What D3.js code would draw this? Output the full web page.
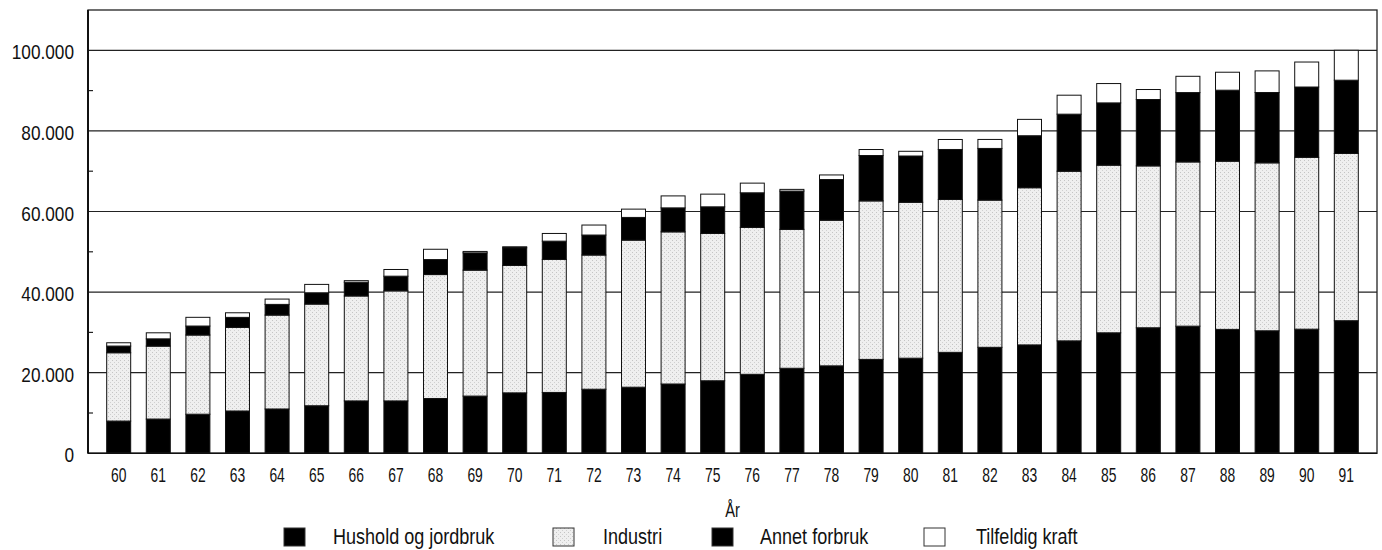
<!DOCTYPE html>
<html>
<head>
<meta charset="utf-8">
<script src="https://cdn.jsdelivr.net/npm/d3@7"></script>
<style>
  html, body { margin: 0; padding: 0; background: #fff; }
  svg { display: block; }
  text { font-family: "Liberation Sans", Arial, Helvetica, sans-serif; fill: #111; }
</style>
</head>
<body>
<svg id="chart" width="1382" height="550"></svg>
<script>
const years = ["60","61","62","63","64","65","66","67","68","69","70","71","72","73","74","75","76","77","78","79","80","81","82","83","84","85","86","87","88","89","90","91"];
const hushold = [8000, 8500, 9700, 10500, 11000, 11800, 13000, 13000, 13600, 14200, 15000, 15100, 15900, 16400, 17200, 18000, 19600, 21100, 21700, 23300, 23600, 25050, 26300, 26900, 27900, 29900, 31150, 31550, 30750, 30400, 30800, 32900];
const industri = [16950, 18100, 19650, 20750, 23300, 25230, 26040, 27300, 30750, 31250, 31600, 33000, 33300, 36500, 37750, 36560, 36460, 34470, 36140, 39330, 38690, 37940, 36530, 39000, 42100, 41600, 40170, 40750, 41740, 41670, 42650, 41500];
const annet = [1660, 1800, 2230, 2480, 2650, 2800, 3400, 3650, 3720, 4290, 4400, 4540, 4960, 5630, 5950, 6600, 8580, 9500, 10090, 11260, 11480, 12400, 12820, 12900, 14150, 15450, 16470, 17210, 17610, 17460, 17440, 18180];
const tilfeldig = [820, 1500, 2160, 1140, 1320, 2080, 400, 1660, 2560, 350, 250, 1910, 2480, 2060, 2970, 3150, 2400, 420, 1140, 1490, 1170, 2480, 2230, 4060, 4710, 4800, 2480, 4040, 4460, 5360, 6200, 7420];
const seriesNames = ["Hushold og jordbruk", "Industri", "Annet forbruk", "Tilfeldig kraft"];
const yTickValues = [0, 20000, 40000, 60000, 80000, 100000];
const yTickLabels = ["0", "20.000", "40.000", "60.000", "80.000", "100.000"];
const yMinorTicks = [10000, 30000, 50000, 70000, 90000];
const xTitle = "År";

const seriesFill = ["#000000", "url(#stipple)", "#000000", "#ffffff"];

const svg = d3.select("#chart");
const defs = svg.append("defs");
const pat = defs.append("pattern").attr("id", "stipple").attr("patternUnits", "userSpaceOnUse")
  .attr("width", 4).attr("height", 4);
pat.append("rect").attr("width", 4).attr("height", 4).attr("fill", "#efefef");
pat.append("rect").attr("x", 0).attr("y", 0).attr("width", 1).attr("height", 1).attr("fill", "#c4c4c4");
pat.append("rect").attr("x", 2).attr("y", 2).attr("width", 1).attr("height", 1).attr("fill", "#d0d0d0");

const mLeft = 88, mRight = 1377, mTop = 10, mBottom = 453.3;

const x = d3.scaleBand().domain(years).range([mLeft, mRight]).paddingInner(0.394).paddingOuter(0.472);
const y = d3.scaleLinear().domain([0, 110000]).range([mBottom, mTop]);

const rows = years.map((yr, i) => ({ year: yr, s0: hushold[i], s1: industri[i], s2: annet[i], s3: tilfeldig[i] }));
const stacked = d3.stack().keys(["s0", "s1", "s2", "s3"])(rows);

// gridlines
svg.append("g").selectAll("line").data(yTickValues.filter(v => v > 0)).join("line")
  .attr("x1", mLeft).attr("x2", mRight)
  .attr("y1", d => y(d)).attr("y2", d => y(d))
  .attr("stroke", "#222").attr("stroke-width", 1.2);

// minor ticks
svg.append("g").selectAll("line").data(yMinorTicks).join("line")
  .attr("x1", mLeft).attr("x2", mLeft + 5)
  .attr("y1", d => y(d)).attr("y2", d => y(d))
  .attr("stroke", "#222").attr("stroke-width", 1.2);

// bars
svg.append("g").selectAll("g").data(stacked).join("g")
  .attr("fill", (d, i) => seriesFill[i])
  .selectAll("rect").data(d => d).join("rect")
  .attr("x", d => x(d.data.year))
  .attr("width", x.bandwidth())
  .attr("y", d => y(d[1]))
  .attr("height", d => Math.max(0, y(d[0]) - y(d[1])))
  .attr("stroke", "#111").attr("stroke-width", 1);

// frame
svg.append("rect").attr("x", mLeft).attr("y", mTop).attr("width", mRight - mLeft).attr("height", mBottom - mTop)
  .attr("fill", "none").attr("stroke", "#222").attr("stroke-width", 1.3);
svg.append("line").attr("x1", mLeft).attr("x2", mLeft).attr("y1", mTop).attr("y2", mBottom)
  .attr("stroke", "#111").attr("stroke-width", 2);
svg.append("line").attr("x1", mLeft).attr("x2", mRight).attr("y1", mBottom).attr("y2", mBottom)
  .attr("stroke", "#111").attr("stroke-width", 1.6);

// y labels (condensed)
svg.append("g").selectAll("text").data(yTickValues).join("text")
  .attr("transform", d => `translate(74,${y(d) + 9}) scale(0.82,1)`)
  .attr("text-anchor", "end")
  .attr("font-size", 21)
  .text((d, i) => yTickLabels[i]);

// x labels (condensed)
svg.append("g").selectAll("text").data(years).join("text")
  .attr("transform", d => `translate(${x(d) + x.bandwidth() / 2},482) scale(0.66,1)`)
  .attr("text-anchor", "middle").attr("font-size", 21)
  .text(d => d);

svg.append("text")
  .attr("transform", `translate(${(mLeft + mRight) / 2},517) scale(0.7,1)`)
  .attr("text-anchor", "middle").attr("font-size", 21).text(xTitle);

// legend
const legBoxX = [284, 553, 712, 924];
const legTextX = [333, 603, 760, 976];
const leg = svg.append("g").selectAll("g").data(seriesNames).join("g");
leg.append("rect")
  .attr("x", (d, i) => legBoxX[i]).attr("y", 528)
  .attr("width", 21).attr("height", 18)
  .attr("fill", (d, i) => seriesFill[i]).attr("stroke", "#333").attr("stroke-width", 1);
leg.append("text")
  .attr("transform", (d, i) => `translate(${legTextX[i]},544) scale(0.82,1)`)
  .attr("font-size", 22)
  .text(d => d);
</script>
</body>
</html>
